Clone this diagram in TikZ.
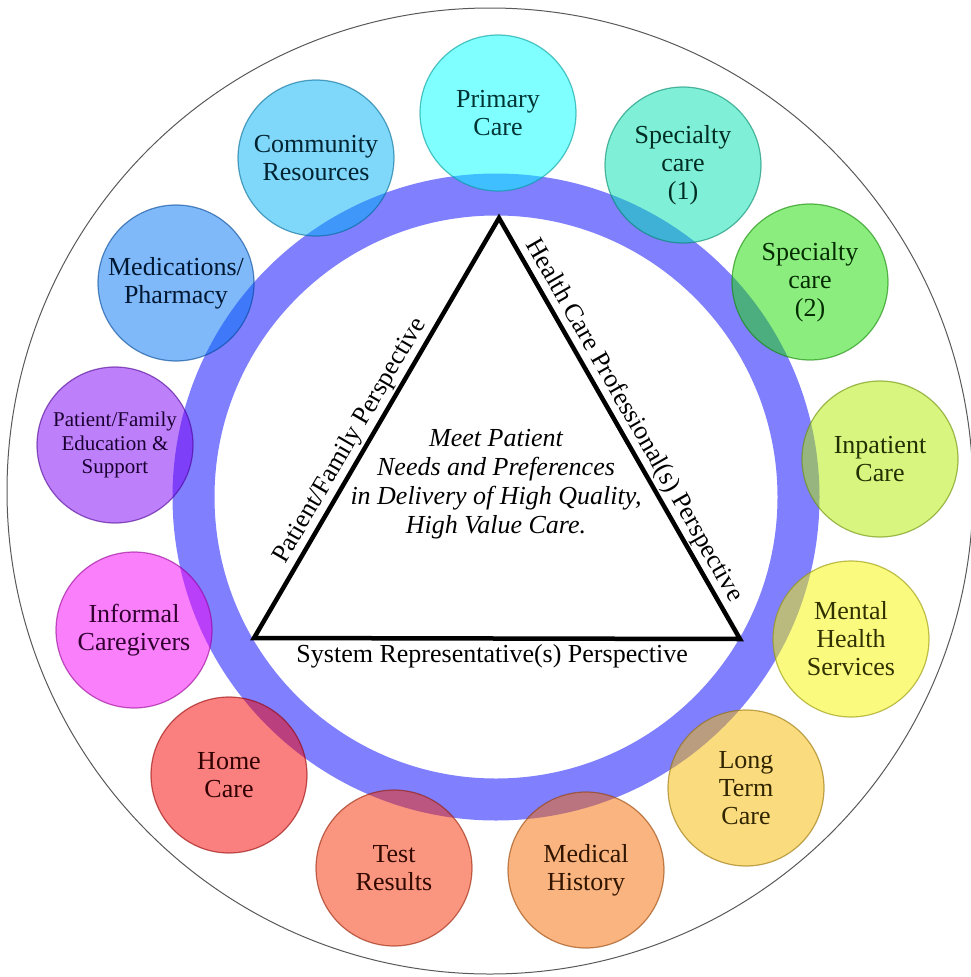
\documentclass[tikz,border=0pt]{standalone}
\usepackage{fontspec}
\setmainfont{Liberation Serif}
\usepackage{tikz}

% circle colours
\definecolor{primc}{RGB}{0,255,255}
\definecolor{specAc}{RGB}{0,225,175}
\definecolor{specBc}{RGB}{25,220,0}
\definecolor{inpc}{RGB}{175,235,0}
\definecolor{mentc}{RGB}{245,245,0}
\definecolor{longc}{RGB}{245,185,0}
\definecolor{histc}{RGB}{245,105,0}
\definecolor{testc}{RGB}{245,45,0}
\definecolor{homec}{RGB}{245,0,0}
\definecolor{infoc}{RGB}{245,0,245}
\definecolor{educ}{RGB}{125,0,245}
\definecolor{medsc}{RGB}{0,115,245}
\definecolor{commc}{RGB}{0,175,245}
\definecolor{ringc}{RGB}{128,128,255}

\begin{document}
\begin{tikzpicture}[x=1pt, y=-1pt,
    satellite/.style={circle, minimum size=156pt, inner sep=0pt, align=center,
        draw=#1!60!black, draw opacity=.6, line width=1.2pt,
        fill=#1, fill opacity=.5, text=#1!20!black, text opacity=1,
        font=\fontsize{26}{28}\selectfont},
    side label/.style={inner sep=2pt, font=\fontsize{26}{28}\selectfont}]
    \useasboundingbox (0,0) rectangle (970,977);

    % outer frame and the ring
    \draw[gray!70!black, line width=1pt] (490,491) circle[radius=483];
    \draw[ringc, line width=42pt] (496,497) circle[radius=302.5];

    % services around the ring
    \node[satellite=primc] (primary) at (498,113) {Primary\\Care};
    \node[satellite=specAc] (specialty-a) at (683,165) {Specialty\\care\\(1)};
    \node[satellite=specBc] (specialty-b) at (810,282) {Specialty\\care\\(2)};
    \node[satellite=inpc] (inpatient) at (880,459) {Inpatient\\Care};
    \node[satellite=mentc] (mental) at (851,639) {Mental\\Health\\Services};
    \node[satellite=longc] (long-term) at (746,788) {Long\\Term\\Care};
    \node[satellite=histc] (history) at (586,870) {Medical\\History};
    \node[satellite=testc] (tests) at (394,868) {Test\\Results};
    \node[satellite=homec] (home) at (229,775) {Home\\Care};
    \node[satellite=infoc] (informal) at (134,630) {Informal\\Caregivers};
    \node[satellite=educ, font=\fontsize{21}{23.5}\selectfont] (education) at (115,445) {Patient/Family\\Education \&\\Support};
    \node[satellite=medsc] (pharmacy) at (176,283) {Medications/\\Pharmacy};
    \node[satellite=commc] (community) at (316,158) {Community\\Resources};

    % perspectives triangle
    \coordinate (apex) at (499,218);
    \coordinate (left) at (254,638);
    \coordinate (right) at (740,639);
    \draw[black, line width=4.5pt, line join=miter]
        (left) -- node[side label, pos=.45, sloped, above] (patient-side) {Patient/Family Perspective}
        (apex) -- node[side label, sloped, above] (professional-side) {Health Care Professional(s) Perspective}
        (right) -- node[side label, pos=.51, below, inner sep=4pt] (system-side) {System Representative(s) Perspective}
        cycle;

    % goal in the middle
    \node[align=center, font=\fontsize{26}{29}\selectfont\itshape] (goal) at (496,484) {
        Meet Patient\\
        Needs and Preferences\\
        in Delivery of High Quality,\\
        High Value Care.
    };

\end{tikzpicture}
\end{document}
